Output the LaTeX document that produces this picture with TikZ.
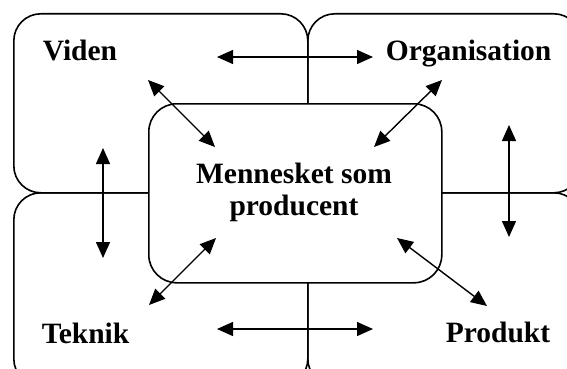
\documentclass[tikz,border=0pt]{standalone}
\usepackage{fontspec}
\setmainfont{Liberation Serif}
\usetikzlibrary{arrows.meta}
\begin{document}
\begin{tikzpicture}[x=1pt,y=-1pt, line width=1.6pt,
  quad/.style={draw, rounded corners=27pt, inner sep=0pt, anchor=north west},
  lbl/.style={font=\fontsize{29.5}{32}\selectfont\bfseries, inner sep=0pt},
  dbl/.style={{Triangle[length=16pt,width=14pt]}-{Triangle[length=16pt,width=14pt]}, line width=1.4pt}]
\useasboundingbox (0,0) rectangle (567,369);
\clip (0,0) rectangle (567,369);
% quadrant boxes
\node[quad, minimum width=294pt, minimum height=179pt] (tl) at (13,13) {};
\node[quad, minimum width=273pt, minimum height=179pt] (tr) at (307,13) {};
\node[quad, minimum width=294pt, minimum height=193pt] (bl) at (13,192) {};
\node[quad, minimum width=273pt, minimum height=193pt] (br) at (307,192) {};
% centre box
\node[quad, fill=white, rounded corners=28pt, minimum width=293pt, minimum height=179pt] (c) at (148,103) {};
% labels
\node[lbl, anchor=base west] (viden) at (42,60) {Viden};
\node[lbl, anchor=base west] (org) at (385,60) {Organisation};
\node[lbl, anchor=base west] (tek) at (41,343) {Teknik};
\node[lbl, anchor=base west] (prod) at (445,342) {Produkt};
\node[lbl, align=center, anchor=base] (men) at (294,215) {Mennesket som\\producent};
% arrow end points
\coordinate (t1) at (217,57);  \coordinate (t2) at (373,57);
\coordinate (b1) at (217,329); \coordinate (b2) at (373,329);
\coordinate (l1) at (103,148); \coordinate (l2) at (103,258);
\coordinate (r1) at (509,125); \coordinate (r2) at (509,237);
\coordinate (v1) at (148,80);  \coordinate (v2) at (215,147);
\coordinate (o1) at (442,80);  \coordinate (o2) at (374,147);
\coordinate (k1) at (149,305); \coordinate (k2) at (216,238);
\coordinate (p1) at (397,238); \coordinate (p2) at (487,306);
% arrows
\draw[dbl] (t1) -- (t2);
\draw[dbl] (b1) -- (b2);
\draw[dbl] (l1) -- (l2);
\draw[dbl] (r1) -- (r2);
\draw[dbl] (v1) -- (v2);
\draw[dbl] (o1) -- (o2);
\draw[dbl] (k1) -- (k2);
\draw[dbl] (p1) -- (p2);
\end{tikzpicture}
\end{document}
